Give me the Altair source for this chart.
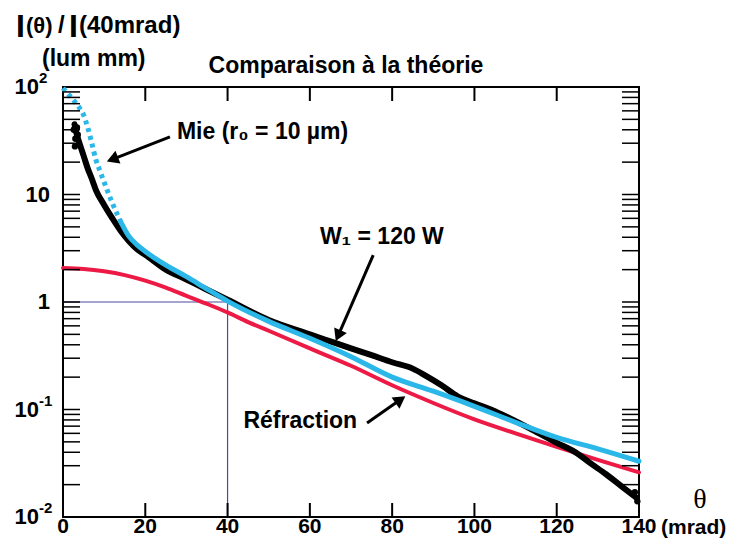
import math
import altair as alt
import pandas as pd

# ---------------- data ----------------
mie_x = [0, 1, 2, 3, 4, 5, 6, 7, 8, 9, 10, 12, 14, 16, 18, 20, 25, 30, 35, 40,
         50, 60, 70, 80, 90, 100, 110, 120, 130, 140]
mie_y = [98, 88, 80, 72, 64, 55, 42, 30, 21, 16.5, 13, 8.3, 5.6, 4.1, 3.4, 2.95,
         2.2, 1.72, 1.32, 1.02, 0.66, 0.46, 0.31, 0.2, 0.148, 0.107, 0.076,
         0.055, 0.043, 0.033]
mie_dotted_until = 14

w_x = [2.8, 3.2, 4, 5, 6, 7, 8, 10, 12, 14, 16, 18, 20, 25, 30, 35, 40, 50, 60,
       65, 70, 75, 80, 85, 88, 92, 96, 100, 104, 110, 115, 120, 125, 128, 132,
       136, 139.5]
w_y = [45, 38, 30, 23, 17.5, 14, 11, 8, 6, 4.6, 3.7, 3.1, 2.75, 2.0, 1.62, 1.3,
       1.05, 0.68, 0.5, 0.43, 0.37, 0.32, 0.275, 0.24, 0.208, 0.168, 0.132,
       0.114, 0.1, 0.078, 0.062, 0.049, 0.039, 0.032, 0.025, 0.019, 0.015]
w_spk_x = [2.6, 3.0, 3.4, 2.9, 3.6, 139.0, 139.6]
w_spk_y = [40, 33, 42, 28, 36, 0.017, 0.014]

r_x = [0, 5, 10, 15, 20, 25, 30, 35, 40, 45, 50, 60, 70, 80, 90, 100, 110, 120,
       130, 140]
r_y = [2.07, 2.03, 1.93, 1.78, 1.58, 1.36, 1.14, 0.96, 0.8, 0.65, 0.54, 0.37,
       0.255, 0.168, 0.115, 0.081, 0.06, 0.045, 0.034, 0.026]

ref_x = [0, 40, 40]
ref_y = [1, 1, 0.01]

x_ticks = [0, 20, 40, 60, 80, 100, 120, 140]
x_tick_labels = ["0", "20", "40", "60", "80", "100", "120", "140"]
y_major = [100, 10, 1, 0.1, 0.01]
y_base = ["10", "10", "1", "10", "10"]
y_sup = ["2", "", "", "-1", "-2"]

# annotations: text, text x, text y ; arrows: tail -> head
ann_text = ["Mie (r\u2080 = 10 \u00b5m)", "W\u2081 = 120 W", "R\u00e9fraction"]
ann_x = [27.7, 77.5, 71.5]
ann_y = [38, 4.03, 0.078]
arr_tail_x = [26.0, 75.4, 73.9]
arr_tail_y = [34.3, 2.73, 0.075]
arr_head_x = [10.2, 66.1, 83.6]
arr_head_y = [20, 0.416, 0.136]

# ---------------- layout ----------------
W, H = 576, 430
XMIN, XMAX = 0, 140
YLO, YHI = 0.01, 100
FONT = "Liberation Sans"

xs = alt.Scale(domain=[XMIN, XMAX], nice=False, zero=False)
ys = alt.Scale(type="log", domain=[YLO, YHI], nice=False)

def px(x):
    return (x - XMIN) / (XMAX - XMIN) * W

def py(v):
    return (math.log10(YHI) - math.log10(v)) / (math.log10(YHI) - math.log10(YLO)) * H

def inv_x(p):
    return XMIN + p / W * (XMAX - XMIN)

def inv_y(p):
    return 10 ** (math.log10(YHI) - p / H * (math.log10(YHI) - math.log10(YLO)))

X = lambda f: alt.X(f, type="quantitative", scale=xs, axis=None)
Y = lambda f: alt.Y(f, type="quantitative", scale=ys, axis=None)

mie_df = pd.DataFrame({"x": mie_x, "y": mie_y})
mie_dot = mie_df[mie_df.x <= mie_dotted_until]
mie_sol = mie_df[mie_df.x >= mie_dotted_until]
w_df = pd.DataFrame({"x": w_x, "y": w_y})
spk_df = pd.DataFrame({"x": w_spk_x, "y": w_spk_y})
r_df = pd.DataFrame({"x": r_x, "y": r_y})
ref_df = pd.DataFrame({"x": ref_x, "y": ref_y, "o": [0, 1, 2]})

CYAN = "#2bb8e8"
RED = "#ec1a45"

ref_layer = alt.Chart(ref_df).mark_line(color="#4a4aa0", strokeWidth=1.2).encode(
    x=X("x"), y=Y("y"), order="o:Q")

red_layer = alt.Chart(r_df).mark_line(color=RED, strokeWidth=4, interpolate="monotone",
                                      strokeCap="round").encode(x=X("x"), y=Y("y"))
black_layer = alt.Chart(w_df).mark_line(color="black", strokeWidth=6, interpolate="monotone",
                                        strokeCap="round").encode(x=X("x"), y=Y("y"))
spk_layer = alt.Chart(spk_df).mark_point(filled=True, color="black", size=40, opacity=1).encode(
    x=X("x"), y=Y("y"))
mie_sol_layer = alt.Chart(mie_sol).mark_line(color=CYAN, strokeWidth=5, interpolate="monotone",
                                             strokeCap="round").encode(x=X("x"), y=Y("y"))
mie_dot_layer = alt.Chart(mie_dot).mark_line(color=CYAN, strokeWidth=5, interpolate="monotone",
                                             strokeDash=[4, 4]).encode(x=X("x"), y=Y("y"))

# ticks (inward)
minor = []
for k in range(-2, 2):
    for m in range(1, 10):
        v = m * 10 ** k
        if YLO < v < YHI:
            minor.append(v)
tick_df = pd.DataFrame({"y": minor})
xt_df = pd.DataFrame({"x": x_ticks[1:-1]})
TL = 17
left_ticks = alt.Chart(tick_df).mark_rule(color="black", strokeWidth=1.5).encode(
    y=Y("y"), x=alt.value(0), x2=alt.value(TL))
right_ticks = alt.Chart(tick_df).mark_rule(color="black", strokeWidth=1.5).encode(
    y=Y("y"), x=alt.value(W), x2=alt.value(W - TL))
bot_ticks = alt.Chart(xt_df).mark_rule(color="black", strokeWidth=2).encode(
    x=X("x"), y=alt.value(H), y2=alt.value(H - 14))
top_ticks = alt.Chart(xt_df).mark_rule(color="black", strokeWidth=2).encode(
    x=X("x"), y=alt.value(0), y2=alt.value(14))

# x labels
xl_df = pd.DataFrame({"x": x_ticks, "t": x_tick_labels})
xlab = alt.Chart(xl_df).mark_text(align="center", baseline="alphabetic", fontSize=21,
                                  fontWeight="bold", font=FONT, color="black").encode(
    x=X("x"), y=alt.value(H + 16), text="t:N")

# y labels
yl_df = pd.DataFrame({"v": y_major, "b": y_base, "s": y_sup})
plain = yl_df[yl_df.s == ""]
supd = yl_df[yl_df.s != ""]
ylab_plain = alt.Chart(plain).mark_text(align="right", baseline="middle", fontSize=22,
                                        fontWeight="bold", font=FONT, color="black").encode(
    y=Y("v"), x=alt.value(-13), text="b:N")
ylab_base = alt.Chart(supd).mark_text(align="right", baseline="middle", fontSize=22,
                                      fontWeight="bold", font=FONT, color="black").encode(
    y=Y("v"), x=alt.value(-24), text="b:N")
ylab_sup = alt.Chart(supd).mark_text(align="left", baseline="middle", fontSize=15,
                                     fontWeight="bold", font=FONT, color="black", dy=-9).encode(
    y=Y("v"), x=alt.value(-24), text="s:N")

# annotations
ann_df = pd.DataFrame({"t": ann_text, "x": ann_x, "y": ann_y,
                       "a": ["left", "center", "right"]})
ann_layers = []
for align in ["left", "center", "right"]:
    sub = ann_df[ann_df.a == align]
    ann_layers.append(alt.Chart(sub).mark_text(align=align, baseline="middle", fontSize=23,
                                               fontWeight="bold", font=FONT, color="black").encode(
        x=X("x"), y=Y("y"), text="t:N"))

# arrows
HEAD = 190
r_sym = math.sqrt(HEAD) / 2
h_sym = r_sym * math.tan(math.pi / 6)
shaft_rows, head_rows = [], []
for i in range(len(arr_tail_x)):
    tx, ty = px(arr_tail_x[i]), py(arr_tail_y[i])
    hx, hy = px(arr_head_x[i]), py(arr_head_y[i])
    dx, dy = hx - tx, hy - ty
    L = math.hypot(dx, dy)
    ux, uy = dx / L, dy / L
    cx, cy = hx - 2 * h_sym * ux, hy - 2 * h_sym * uy
    ex, ey = hx - 2.5 * h_sym * ux, hy - 2.5 * h_sym * uy
    ang = math.degrees(math.atan2(ux, -uy)) % 360
    shaft_rows.append({"id": i, "o": 0, "x": arr_tail_x[i], "y": arr_tail_y[i]})
    shaft_rows.append({"id": i, "o": 1, "x": inv_x(ex), "y": inv_y(ey)})
    head_rows.append({"x": inv_x(cx), "y": inv_y(cy), "ang": ang})
shaft_layer = alt.Chart(pd.DataFrame(shaft_rows)).mark_line(color="black", strokeWidth=3).encode(
    x=X("x"), y=Y("y"), detail="id:N", order="o:Q")
head_layer = alt.Chart(pd.DataFrame(head_rows)).mark_point(
    shape="triangle-up", filled=True, color="black", size=HEAD, opacity=1).encode(
    x=X("x"), y=Y("y"), angle=alt.Angle("ang:Q", scale=None))

one = pd.DataFrame({"a": [0]})

def label(text, x, y, size, align="left", weight="bold", font=FONT, baseline="alphabetic"):
    return alt.Chart(one).mark_text(text=text, align=align, baseline=baseline, fontSize=size,
                                    fontWeight=weight, font=font, color="black").encode(
        x=alt.value(x), y=alt.value(y))

texts = [
    label("Comparaison \u00e0 la th\u00e9orie", 283, -14, 23, align="center"),
    label("I", -47, -50, 32),
    label("(\u03b8)", -37, -54, 22),
    label("/", -5, -54, 24),
    label("I", 6, -50, 32),
    label("(40mrad)", 16, -54, 24),
    label("(lum mm)", -21, -21, 23),
    label("\u03b8", 637, 421, 28, align="center", weight="normal", font="Liberation Serif"),
    label("(mrad)", 598, 447, 21),
]

chart = alt.layer(
    ref_layer, red_layer, black_layer, spk_layer, mie_sol_layer, mie_dot_layer,
    left_ticks, right_ticks, bot_ticks, top_ticks, xlab,
    ylab_plain, ylab_base, ylab_sup,
    *ann_layers, shaft_layer, head_layer, *texts
).properties(
    width=W, height=H,
    padding={"left": 55, "top": 79, "right": 95, "bottom": 22},
    autosize=alt.AutoSizeParams(type="none"),
    background="white",
).configure_view(stroke="black", strokeWidth=2)

chart.save("out.html", embed_options={"renderer": "svg", "actions": False})
